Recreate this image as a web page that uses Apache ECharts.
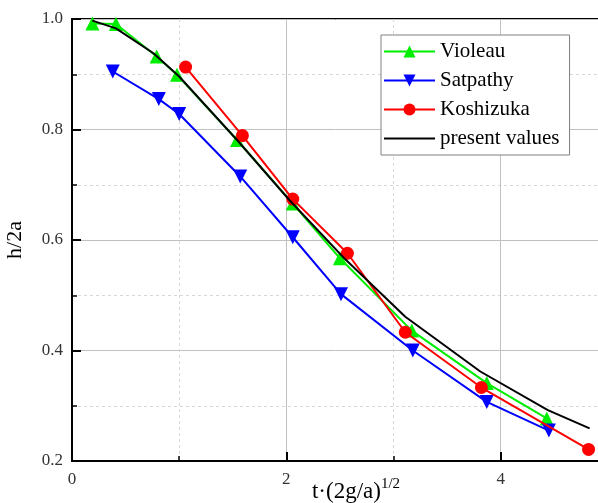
<!DOCTYPE html>
<html>
<head>
<meta charset="utf-8">
<script src="https://cdn.jsdelivr.net/npm/echarts@6/dist/echarts.min.js"></script>
<style>html,body{margin:0;padding:0;background:#fff}#c{width:598px;height:503px}</style>
</head>
<body>
<div id="c"></div>
<script>
const seriesNames = ['Violeau', 'Satpathy', 'Koshizuka', 'present values'];
const violeauX = [0.19, 0.41, 0.79, 0.98, 1.54, 2.06, 2.50, 3.17, 3.87, 4.43];
const violeauY = [0.992, 0.991, 0.932, 0.899, 0.781, 0.666, 0.567, 0.436, 0.341, 0.277];
const satpathyX = [0.38, 0.81, 1.00, 1.57, 2.06, 2.51, 3.18, 3.87, 4.45];
const satpathyY = [0.905, 0.855, 0.828, 0.715, 0.605, 0.502, 0.400, 0.307, 0.255];
const koshizukaX = [1.06, 1.59, 2.06, 2.57, 3.11, 3.82, 4.82];
const koshizukaY = [0.913, 0.789, 0.674, 0.576, 0.433, 0.333, 0.221];
const presentX = [0.19, 0.41, 0.76, 1.00, 1.54, 2.03, 2.55, 3.11, 3.81, 4.44, 4.83];
const presentY = [0.997, 0.983, 0.938, 0.896, 0.781, 0.672, 0.565, 0.461, 0.362, 0.292, 0.259];
const xTicks = [0, 2, 4];
const yTicks = [0.2, 0.4, 0.6, 0.8, 1.0];

const zip = (xs, ys) => xs.map((x, i) => [x, ys[i]]);
const serif = 'Liberation Serif';

const chart = echarts.init(document.getElementById('c'), null, {renderer: 'canvas'});
chart.setOption({
  animation: false,
  backgroundColor: '#fff',
  grid: {left: 72, top: 19, width: 568, height: 442, outerBoundsMode: 'none', containLabel: false,
    show: true, borderColor: '#000', borderWidth: 2, backgroundColor: 'transparent'},
  legend: {
    orient: 'vertical', left: 381, top: 35,
    padding: [6, 10, 6, 2],
    backgroundColor: '#fff', borderColor: '#808080', borderWidth: 1,
    itemWidth: 51, itemHeight: 15, itemGap: 8,
    textStyle: {fontFamily: serif, fontSize: 21, color: '#000', lineHeight: 20},
    data: [
      {name: seriesNames[0]},
      {name: seriesNames[1]},
      {name: seriesNames[2]},
      {name: seriesNames[3], itemStyle: {opacity: 0}}
    ]
  },
  xAxis: {
    type: 'value', min: 0, max: 5.3, interval: 2,
    name: '{a|t·(2g/a)}{b|1/2}', nameLocation: 'middle', nameGap: 16, nameMoveOverlap: false,
    nameTextStyle: {
      rich: {
        a: {fontFamily: serif, fontSize: 23, color: '#000', verticalAlign: 'bottom', lineHeight: 26},
        b: {fontFamily: serif, fontSize: 15, color: '#000', verticalAlign: 'top', lineHeight: 26}
      }
    },
    axisLine: {show: true, onZero: false, lineStyle: {color: '#000', width: 2}},
    axisTick: {show: true, inside: true, length: 9, lineStyle: {color: '#000', width: 2}},
    minorTick: {show: true, splitNumber: 2, length: 5, lineStyle: {color: '#000', width: 1.5}},
    axisLabel: {fontFamily: serif, fontSize: 17, color: '#333', margin: 10,
      formatter: v => xTicks.includes(v) ? String(v) : ''},
    splitLine: {show: true, lineStyle: {color: '#c0c0c0', width: 1}},
    minorSplitLine: {show: true, lineStyle: {color: '#d8d8d8', width: 1, type: [3, 3]}}
  },
  yAxis: {
    type: 'value', min: 0.2, max: 1.0, interval: 0.2,
    name: 'h/2a', nameLocation: 'middle', nameGap: 46, nameRotate: 90, nameMoveOverlap: false,
    nameTextStyle: {fontFamily: serif, fontSize: 22, color: '#000'},
    axisLine: {show: true, onZero: false, lineStyle: {color: '#000', width: 2}},
    axisTick: {show: true, inside: true, length: 9, lineStyle: {color: '#000', width: 2}},
    minorTick: {show: true, splitNumber: 2, length: 5, lineStyle: {color: '#000', width: 1.5}},
    axisLabel: {fontFamily: serif, fontSize: 17, color: '#333', margin: 9,
      formatter: v => { const t = yTicks.find(k => Math.abs(k - v) < 1e-9); return t === undefined ? '' : t.toFixed(1); }},
    splitLine: {show: true, lineStyle: {color: '#c0c0c0', width: 1}},
    minorSplitLine: {show: true, lineStyle: {color: '#d8d8d8', width: 1, type: [3, 3]}}
  },
  series: [
    {name: seriesNames[0], type: 'line', data: zip(violeauX, violeauY), symbol: 'triangle', symbolSize: 14,
      itemStyle: {color: '#00ee00'}, lineStyle: {color: '#00ee00', width: 2}, z: 3},
    {name: seriesNames[1], type: 'line', data: zip(satpathyX, satpathyY), symbol: 'triangle', symbolRotate: 180, symbolSize: 14,
      itemStyle: {color: '#0000ff'}, lineStyle: {color: '#0000ff', width: 2}, z: 3},
    {name: seriesNames[2], type: 'line', data: zip(koshizukaX, koshizukaY), symbol: 'circle', symbolSize: 13,
      itemStyle: {color: '#ff0000'}, lineStyle: {color: '#ff0000', width: 2}, z: 4},
    {name: seriesNames[3], type: 'line', data: zip(presentX, presentY), symbol: 'none',
      itemStyle: {color: '#000'}, lineStyle: {color: '#000', width: 2}, z: 5}
  ]
});
</script>
</body>
</html>
